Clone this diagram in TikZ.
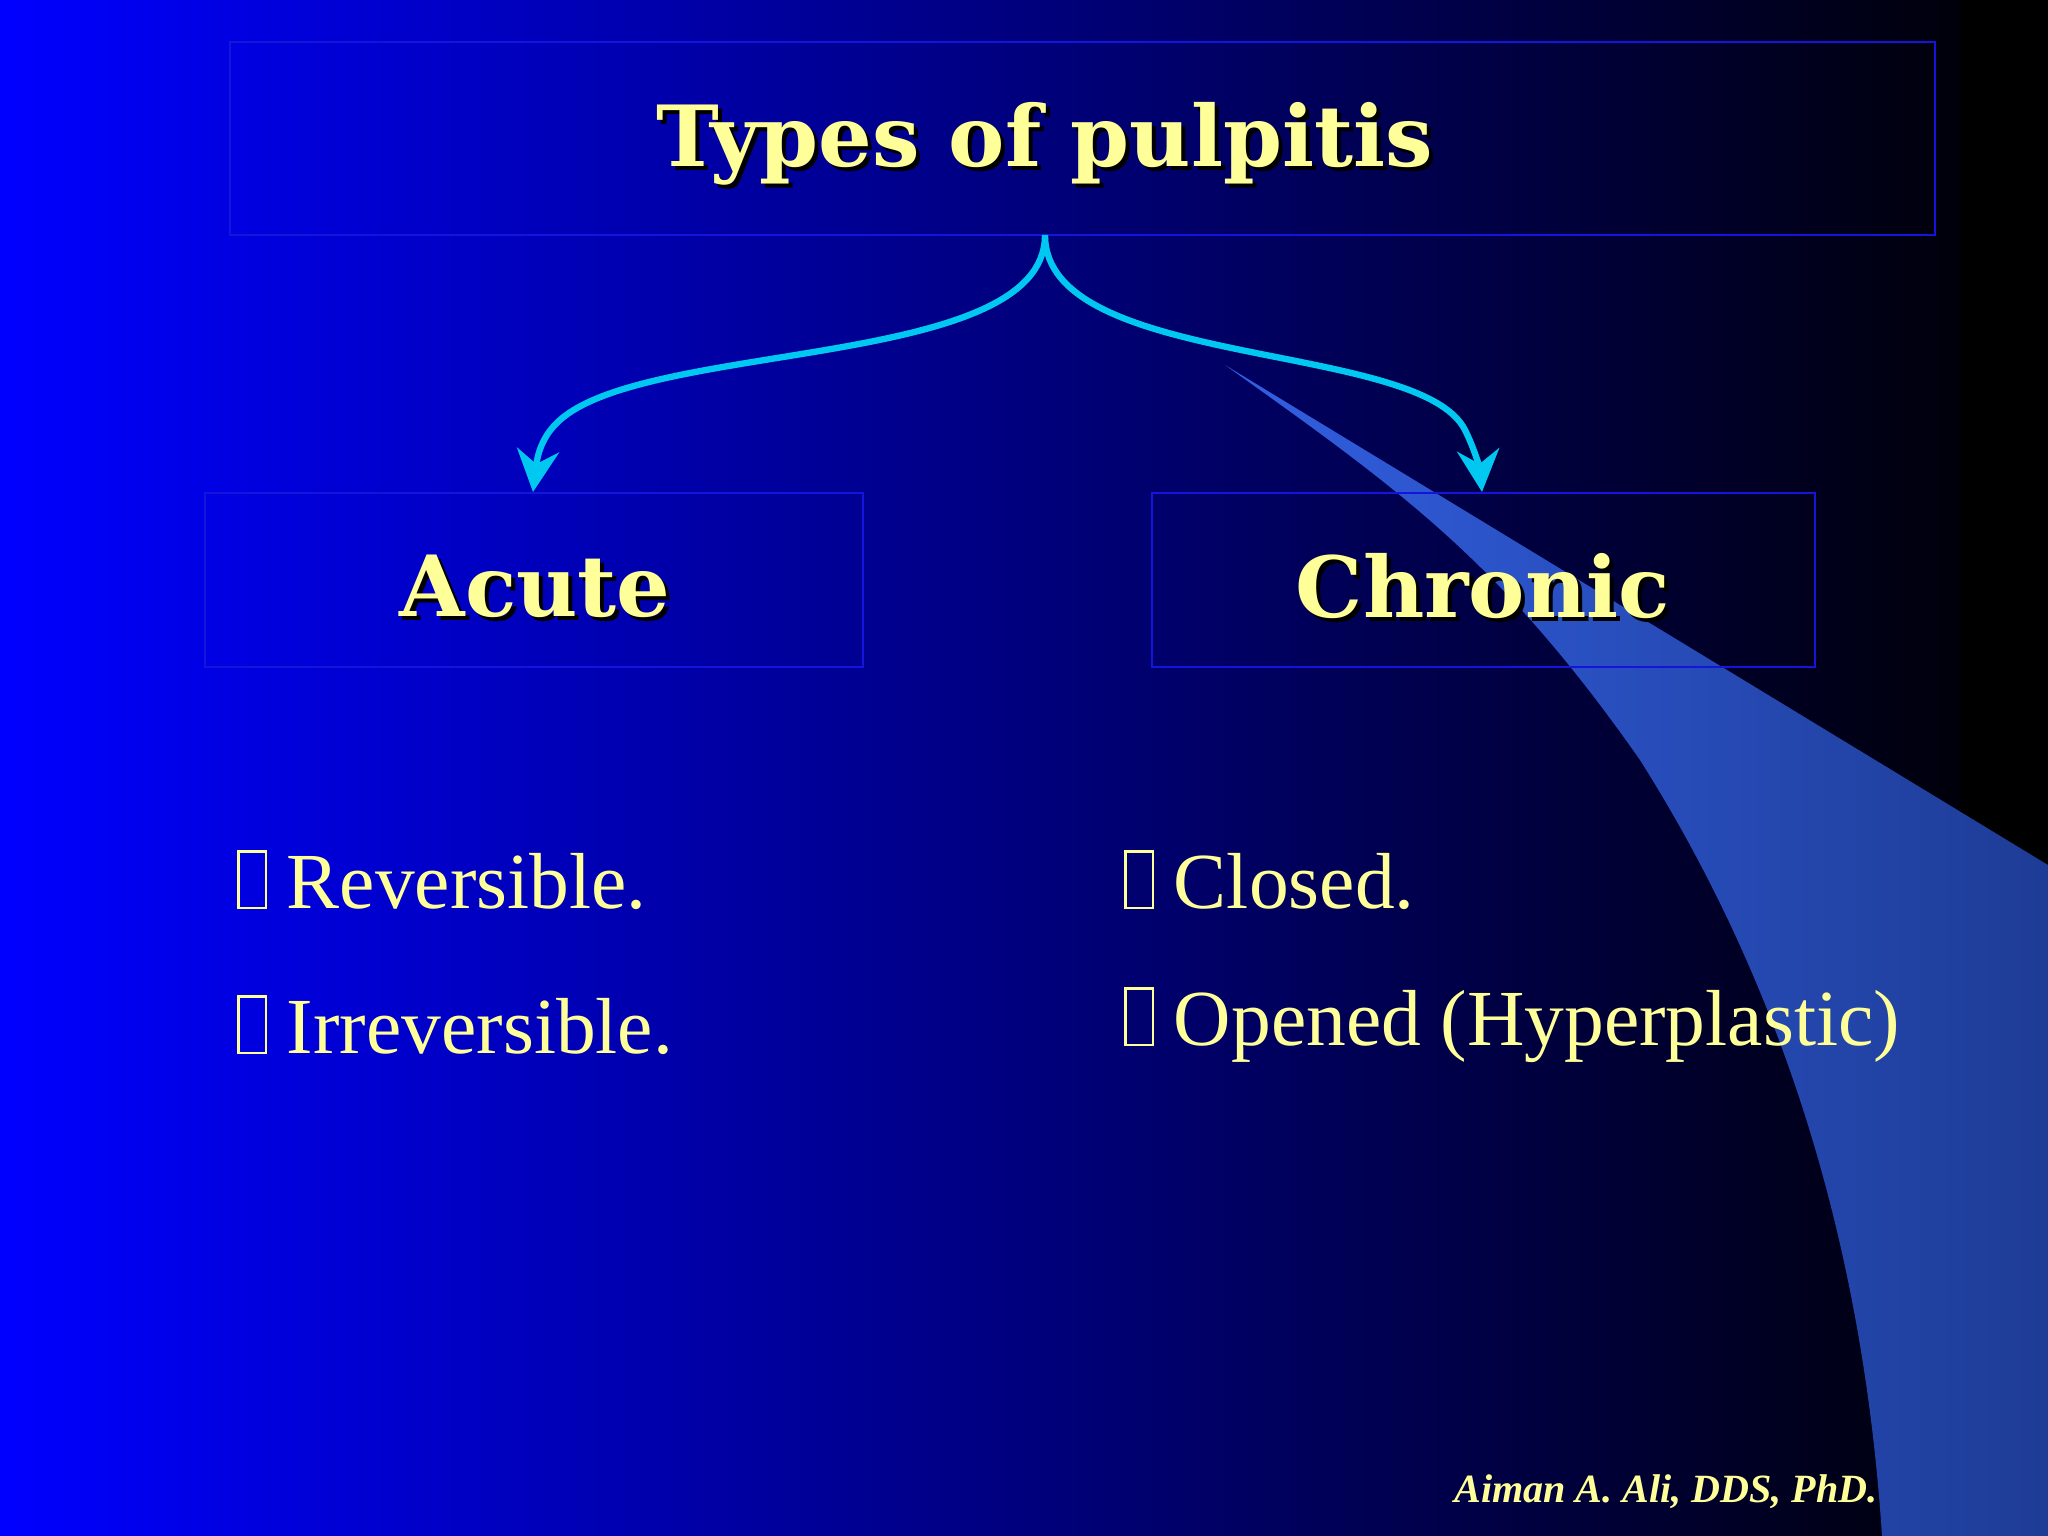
\documentclass[tikz,border=0pt]{standalone}
\usepackage{fontspec}
\setmainfont{Liberation Serif}
\newfontfamily\titlefont{DejaVu Serif}
\usetikzlibrary{arrows.meta}
\definecolor{ylw}{RGB}{255,255,153}
\definecolor{cyn}{RGB}{0,200,240}
\definecolor{bord}{RGB}{20,20,220}
\definecolor{beamA}{RGB}{50,95,225}
\definecolor{beamB}{RGB}{30,60,150}
\newcommand{\bx}{\raisebox{0.05ex}{\setlength{\fboxsep}{0pt}\setlength{\fboxrule}{0.6pt}\fbox{\rule{0pt}{0.68em}\hspace{0.32em}}}}
\tikzset{
 head/.style={font=\titlefont\bfseries\fontsize{24}{28}\selectfont,text=ylw},
 shadowtxt/.style={font=\titlefont\bfseries\fontsize{24}{28}\selectfont,text=black},
 box/.style={draw=bord,line width=0.8pt,fill=none},
 item/.style={font=\fontsize{22.6}{26}\selectfont,text=ylw,anchor=west},
 conn/.style={cyn,line width=1.8pt,-{Stealth[length=12pt,width=12pt,inset=4pt]}}
}
\begin{document}
\begin{tikzpicture}[x=0.01cm,y=-0.01cm]
\useasboundingbox (0,0) rectangle (2048,1536);
\shade[left color=blue,right color=black,middle color={rgb,255:red,0;green,0;blue,125}] (0,0) rectangle (2048,1536);
\fill[black] (1960,0) rectangle (2048,1536);
\shade[left color=beamA,right color=beamB] (1225,365) -- (2048,865) -- (2048,1536) -- (1882,1536)
 .. controls (1860,1200) and (1760,950) .. (1640,760) .. controls (1500,560) and (1400,490) .. cycle;
\draw[box] (230,42) rectangle (1935,235);
\draw[box] (205,493) rectangle (863,667);
\draw[box] (1152,493) rectangle (1815,667);
\coordinate (top) at (1045,235);
\node[shadowtxt] at (1049,148) {Types of pulpitis};
\node[head] (title) at (1045,144) {Types of pulpitis};
\node[shadowtxt] at (539,590) {Acute};
\node[head] (acute) at (535,586) {Acute};
\node[shadowtxt] at (1487,590) {Chronic};
\node[head] (chronic) at (1483,586) {Chronic};
\coordinate (atip) at (533,492);
\coordinate (ctip) at (1482,492);
\draw[conn] (top) .. controls (1045,370) and (650,340) .. (560,420) .. controls (545,433) and (538,450) .. (atip);
\draw[conn] (top) .. controls (1045,370) and (1420,340) .. (1465,430) .. controls (1475,450) and (1480,470) .. (ctip);
\node[item] (r) at (225,880) {\bx\ Reversible.};
\node[item] (i) at (225,1025) {\bx\ Irreversible.};
\node[item] (c) at (1112,880) {\bx\ Closed.};
\node[item] (o) at (1112,1025) {\bx\ Opened (Hyperplastic)};
\node[font=\bfseries\itshape\fontsize{11.4}{13}\selectfont,text=ylw,anchor=east] (au) at (1890,1492) {Aiman A. Ali, DDS, PhD.};
\end{tikzpicture}
\end{document}
